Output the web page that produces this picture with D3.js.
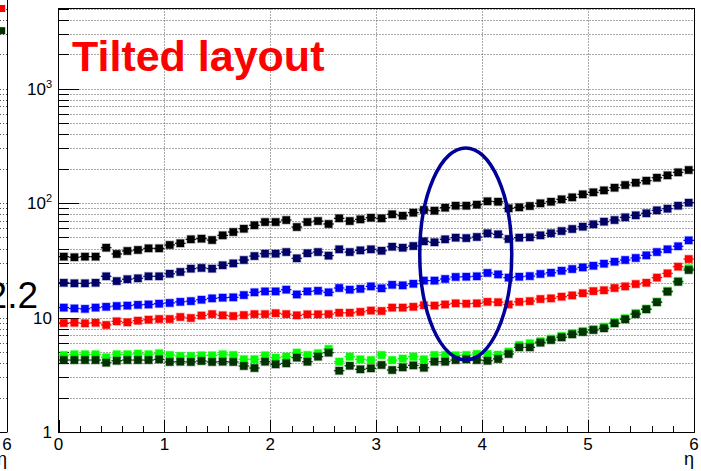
<!DOCTYPE html>
<html>
<head>
<meta charset="utf-8">
<script src="https://cdn.jsdelivr.net/npm/d3@7"></script>
<style>
	body { margin: 0; background: #fff; }
	svg { display: block; }
	text { font-family: "Liberation Sans", Arial, Helvetica, sans-serif; }
</style>
</head>
<body>
<div id="chart"></div>
<script>
// eta bins: 60 bins of 0.1 from 0 to 6
var etaMin = 0, etaMax = 6, binWidth = 0.1;
var xTickLabels = ["0", "1", "2", "3", "4", "5", "6"];

var blackValues = [34.0, 33.6, 34.0, 34.0, 40.7, 35.9, 38.1, 38.9, 40.2, 40.2,
	43.0, 44.5, 48.2, 48.8, 47.5, 52.2, 55.8, 59.6, 63.9, 68.2,
	68.2, 71.0, 61.7, 68.2, 69.6, 65.6, 73.5, 69.6, 72.0, 74.4,
	73.5, 79.7, 77.4, 82.3, 86.9, 85.7, 91.0, 94.7, 94.7, 96.7,
	103.5, 102.6, 89.9, 91.7, 94.2, 99.4, 102.6, 107.7, 112.1, 119.1,
	124, 129, 136, 143.6, 150.4, 156.6, 166.3, 174.5, 185.3, 194.2];

var navyValues = [20.1, 19.9, 19.9, 20.1, 22.9, 20.8, 21.6, 22.0, 22.9, 22.9,
	24.1, 25.0, 26.7, 27.1, 26.7, 28.6, 29.7, 31.8, 34.4, 36.1,
	36.1, 37.3, 32.9, 36.4, 37.3, 34.7, 39.4, 37.3, 38.6, 39.4,
	38.3, 41.5, 40.7, 42.1, 46.3, 45.4, 48.2, 49.8, 49.4, 50.5,
	54.4, 53.3, 48.5, 49.8, 50.2, 52.2, 54.4, 56.9, 59.3, 62.1,
	65.2, 68.7, 71.0, 75.0, 78.1, 81.3, 86.3, 89.2, 94.7, 100.6];

var blueValues = [12.2, 12.0, 11.9, 12.2, 12.4, 12.6, 12.7, 12.9, 13.0, 13.2,
	13.4, 13.7, 13.9, 14.3, 14.7, 14.9, 15.0, 15.7, 16.6, 16.9,
	16.9, 17.5, 15.9, 16.9, 17.1, 16.6, 18.1, 17.5, 17.8, 18.7,
	18.0, 19.3, 19.1, 19.7, 21.0, 21.0, 21.7, 22.6, 22.7, 22.9,
	24.5, 23.8, 22.3, 22.7, 23.0, 24.0, 24.6, 25.6, 26.5, 27.4,
	28.3, 29.5, 30.7, 31.8, 33.1, 34.9, 37.3, 39.4, 41.9, 47.2];

var redValues = [8.95, 9.0, 8.9, 9.0, 8.6, 9.26, 9.08, 9.38, 9.57, 9.7,
	9.7, 10.1, 9.9, 10.4, 10.7, 10.45, 10.3, 10.5, 10.7, 10.7,
	10.9, 10.7, 10.45, 10.66, 10.66, 10.7, 11.0, 11.0, 11.2, 11.5,
	11.4, 12.2, 12.2, 12.4, 12.8, 12.7, 13.0, 13.3, 13.2, 13.3,
	13.7, 13.6, 13.0, 13.7, 13.9, 14.5, 14.7, 15.2, 15.6, 16.3,
	17.0, 17.3, 18.1, 18.7, 19.6, 20.1, 22.3, 24.3, 27.8, 32.4];

var greenValues = [4.70, 4.77, 4.77, 4.77, 4.49, 4.77, 4.77, 4.83, 4.77, 4.87,
	4.70, 4.61, 4.61, 4.67, 4.67, 4.77, 4.70, 4.32, 4.32, 4.67,
	4.46, 4.55, 4.93, 4.70, 4.87, 5.31, 4.11, 4.55, 4.31, 4.25,
	4.70, 4.25, 4.37, 4.55, 4.31, 4.70, 4.70, 4.67, 4.70, 4.80,
	4.80, 4.73, 5.03, 5.75, 5.95, 6.2, 6.53, 6.89, 7.28, 7.58,
	7.88, 8.3, 9.08, 9.84, 10.9, 11.9, 13.7, 17.1, 20.8, 26.9];

var darkGreenValues = [4.25, 4.25, 4.25, 4.25, 4.03, 4.19, 4.25, 4.25, 4.25, 4.31,
	4.09, 4.11, 4.09, 4.17, 4.09, 4.11, 4.09, 3.77, 3.62, 4.11,
	3.90, 3.98, 4.46, 4.11, 4.55, 4.93, 3.43, 3.79, 3.53, 3.60,
	3.85, 3.48, 3.67, 3.82, 3.64, 4.11, 4.11, 4.25, 4.31, 4.25,
	4.19, 4.34, 4.80, 5.49, 5.49, 6.03, 6.36, 6.71, 7.13, 7.47,
	7.78, 8.05, 8.90, 9.64, 10.7, 11.8, 13.6, 16.8, 20.5, 26.0];

// neighbouring (cut off) panel on the left: only its last bins are visible
var leftPanelNames = ["red", "darkgreen"];
var leftPanelValues = [5000, 3200];
var leftPanelText = "2.2";

var titleText = "Tilted layout";
var xTitle = "\u03b7";

// ellipse drawn around the eta ~ 3.85 region
var ellipseCenter = [3.845, 35.9];

document.addEventListener("DOMContentLoaded", function() {

	var width = 701, height = 471;
	var frameLeft = 58.5, frameRight = 694, frameTop = 8.5, frameBottom = 432;

	var colors = {
		black: "#000000",
		navy: "#000066",
		blue: "#0000ff",
		red: "#ff0000",
		green: "#00ff00",
		darkgreen: "#003300"
	};

	var series = [
		{ name: "black", values: blackValues },
		{ name: "navy", values: navyValues },
		{ name: "blue", values: blueValues },
		{ name: "red", values: redValues },
		{ name: "green", values: greenValues },
		{ name: "darkgreen", values: darkGreenValues }
	];

	var x = d3.scaleLinear().domain([etaMin, etaMax]).range([frameLeft, frameRight]);
	var y = d3.scaleLog().domain([1, 5000]).range([frameBottom, frameTop]);

	var svg = d3.select("#chart").append("svg")
		.attr("width", width)
		.attr("height", height);

	svg.append("rect")
		.attr("width", width)
		.attr("height", height)
		.attr("fill", "#fff");

	// all log ticks 1..9 per decade
	var yTicks = [];
	for (var dec = 0; dec < 4; dec++) {
		for (var m = 1; m < 10; m++) {
			var v = m * Math.pow(10, dec);
			if (v <= 5000) yTicks.push(v);
		}
	}

	// left panel remains (grid, frame, last markers, labels)
	var leftEdge = 7;
	var left = svg.append("g").attr("class", "leftPanel");
	left.selectAll("line.grid")
		.data(yTicks.filter(d => d > 1))
		.enter().append("line")
		.attr("class", "grid")
		.attr("x1", 0).attr("x2", leftEdge)
		.attr("y1", d => Math.round(y(d)) + 0.5)
		.attr("y2", d => Math.round(y(d)) + 0.5)
		.attr("stroke", "#555")
		.attr("stroke-dasharray", "1,2");

	left.append("text")
		.attr("x", 38)
		.attr("y", 308)
		.attr("text-anchor", "end")
		.attr("font-size", 37)
		.text(leftPanelText);

	left.append("line")
		.attr("x1", leftEdge + 0.5).attr("x2", leftEdge + 0.5)
		.attr("y1", 0).attr("y2", frameBottom)
		.attr("stroke", "#000");
	left.append("line")
		.attr("x1", 0).attr("x2", leftEdge + 0.5)
		.attr("y1", frameBottom + 0.5).attr("y2", frameBottom + 0.5)
		.attr("stroke", "#000");

	var binPx = x(binWidth) - x(0);
	left.selectAll("rect.mk")
		.data(leftPanelValues)
		.enter().append("rect")
		.attr("class", "mk")
		.attr("x", leftEdge - binPx / 2 - 3.5)
		.attr("y", d => y(d) - 3.5)
		.attr("width", 7).attr("height", 7)
		.attr("fill", (d, i) => colors[leftPanelNames[i]]);

	left.append("text")
		.attr("x", leftEdge)
		.attr("y", 450)
		.attr("text-anchor", "middle")
		.attr("font-size", 17)
		.text(xTickLabels[xTickLabels.length - 1]);
	left.append("text")
		.attr("x", leftEdge)
		.attr("y", 465)
		.attr("text-anchor", "end")
		.attr("font-size", 18)
		.text(xTitle);

	// main frame background grid
	var grid = svg.append("g").attr("class", "grid");
	grid.selectAll("line.h")
		.data(yTicks.filter(d => d > 1))
		.enter().append("line")
		.attr("class", "h")
		.attr("x1", frameLeft).attr("x2", frameRight)
		.attr("y1", d => Math.round(y(d)) + 0.5)
		.attr("y2", d => Math.round(y(d)) + 0.5)
		.attr("stroke", "#555")
		.attr("stroke-dasharray", "1,2");
	grid.selectAll("line.v")
		.data(d3.range(1, 6))
		.enter().append("line")
		.attr("class", "v")
		.attr("x1", d => Math.round(x(d)) + 0.5)
		.attr("x2", d => Math.round(x(d)) + 0.5)
		.attr("y1", frameTop).attr("y2", frameBottom)
		.attr("stroke", "#555")
		.attr("stroke-dasharray", "1,2");

	// axes, drawn by hand ROOT style (ticks pointing inwards)
	var axes = svg.append("g").attr("class", "axes").attr("shape-rendering", "crispEdges");

	axes.selectAll("line.yt")
		.data(yTicks)
		.enter().append("line")
		.attr("class", "yt")
		.attr("x1", frameLeft)
		.attr("x2", d => frameLeft + (Math.log10(d) % 1 === 0 ? 20 : 10))
		.attr("y1", d => Math.round(y(d)) + 0.5)
		.attr("y2", d => Math.round(y(d)) + 0.5)
		.attr("stroke", "#000");

	var xMinor = d3.range(0, 31).map(i => i * 0.2);
	axes.selectAll("line.xt")
		.data(xMinor)
		.enter().append("line")
		.attr("class", "xt")
		.attr("x1", d => Math.round(x(d)) + 0.5)
		.attr("x2", d => Math.round(x(d)) + 0.5)
		.attr("y1", frameBottom)
		.attr("y2", (d, i) => frameBottom - (i % 5 === 0 ? 12 : 6))
		.attr("stroke", "#000");

	// frame
	axes.append("rect")
		.attr("x", frameLeft)
		.attr("y", frameTop)
		.attr("width", frameRight - frameLeft)
		.attr("height", frameBottom - frameTop)
		.attr("fill", "none")
		.attr("stroke", "#000");

	// x tick labels
	svg.append("g").selectAll("text")
		.data(xTickLabels)
		.enter().append("text")
		.attr("x", (d, i) => x(i))
		.attr("y", 450)
		.attr("text-anchor", "middle")
		.attr("font-size", 17)
		.text(d => d);

	svg.append("text")
		.attr("x", frameRight)
		.attr("y", 465)
		.attr("text-anchor", "end")
		.attr("font-size", 18)
		.text(xTitle);

	// y labels: 1, 10, 10^2, 10^3
	var yLabels = svg.append("g").selectAll("text")
		.data([1, 10, 100, 1000])
		.enter().append("text")
		.attr("x", 52)
		.attr("y", d => y(d) + 6)
		.attr("text-anchor", "end")
		.attr("font-size", 17);
	yLabels.each(function(d) {
		var t = d3.select(this);
		var p = Math.round(Math.log10(d));
		if (p < 2) {
			t.text(String(d));
		} else {
			t.append("tspan").text("10");
			t.append("tspan")
				.attr("dy", -7)
				.attr("font-size", 11)
				.text(String(p));
		}
	});

	// data: horizontal bin bars + square markers
	var etaCenters = d3.range(blackValues.length).map(i => etaMin + binWidth * (i + 0.5));

	var plot = svg.append("g").attr("class", "series");
	series.forEach(function(s) {
		var g = plot.append("g").attr("class", "s-" + s.name);
		var c = colors[s.name];
		g.selectAll("line")
			.data(s.values)
			.enter().append("line")
			.attr("x1", (d, i) => x(etaCenters[i] - binWidth / 2))
			.attr("x2", (d, i) => x(etaCenters[i] + binWidth / 2))
			.attr("y1", d => y(d))
			.attr("y2", d => y(d))
			.attr("stroke", c)
			.attr("stroke-width", 1.2);
		g.selectAll("rect")
			.data(s.values)
			.enter().append("rect")
			.attr("x", (d, i) => x(etaCenters[i]) - 3.75)
			.attr("y", d => y(d) - 3.75)
			.attr("width", 7.5)
			.attr("height", 7.5)
			.attr("fill", c)
			.attr("stroke", c)
			.attr("stroke-opacity", 0.3)
			.attr("stroke-width", 1.5);
	});

	// title
	svg.append("text")
		.attr("x", 72)
		.attr("y", 71)
		.attr("font-size", 43)
		.attr("font-weight", "bold")
		.attr("fill", "#ff0000")
		.text(titleText);

	// highlight ellipse
	svg.append("ellipse")
		.attr("cx", x(ellipseCenter[0]))
		.attr("cy", y(ellipseCenter[1]))
		.attr("rx", 46)
		.attr("ry", 106)
		.attr("fill", "none")
		.attr("stroke", "#000099")
		.attr("stroke-width", 3.5);
});
</script>
</body>
</html>
